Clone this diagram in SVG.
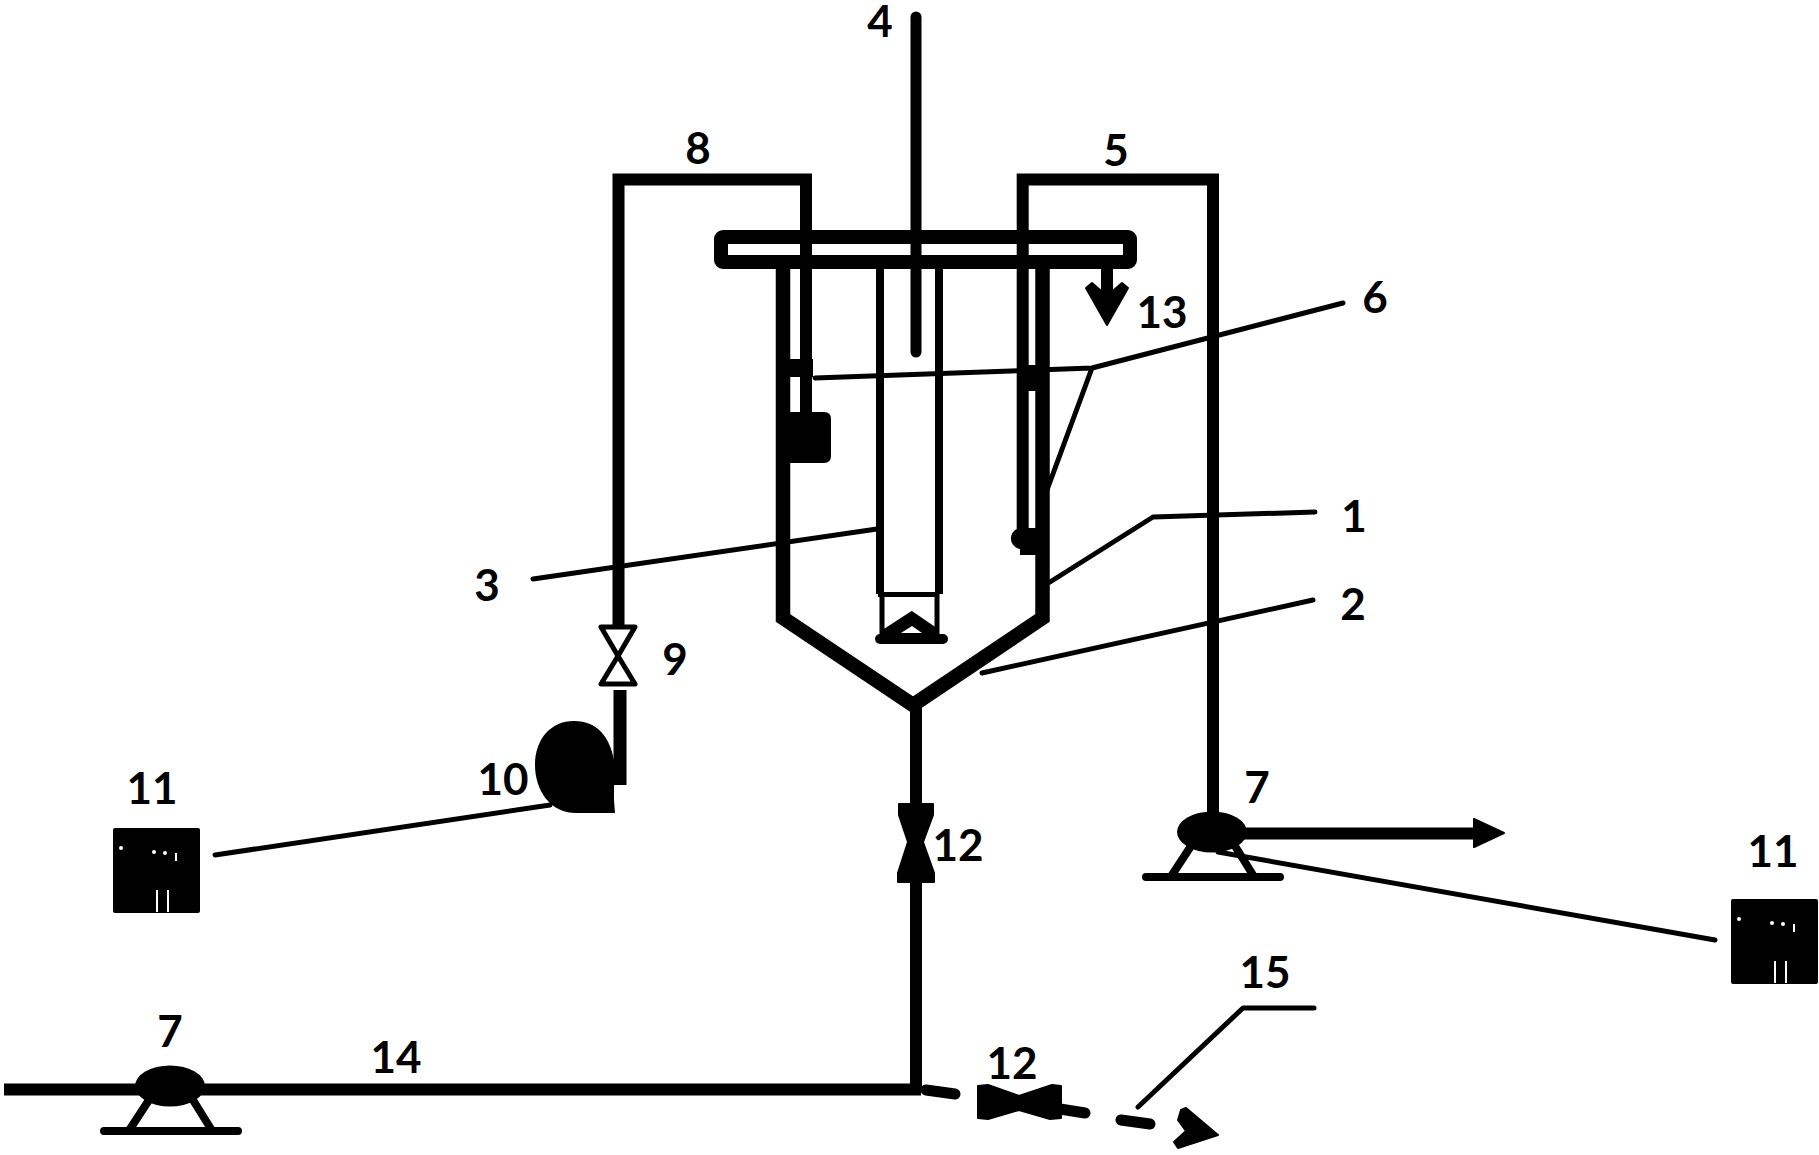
<svg xmlns="http://www.w3.org/2000/svg" width="1819" height="1155" viewBox="0 0 1819 1155">
<style>
.p{fill:none;stroke:#000;stroke-width:12;stroke-linejoin:miter}
.w{fill:none;stroke:#000;stroke-width:14.5;stroke-linejoin:miter}
.l{fill:none;stroke:#000;stroke-width:5;stroke-linecap:round;stroke-linejoin:round}
.d{fill:none;stroke:#000;stroke-width:11;stroke-linecap:round}
.k{fill:#000;stroke:#000;stroke-width:2;stroke-linejoin:round}
.v{fill:#fff;stroke:#000;stroke-width:5;stroke-linejoin:round}
.s{fill:none;stroke:#000;stroke-width:8;stroke-linecap:round}
.h{fill:#fff}
text{font-family:Lato,"DejaVu Sans",sans-serif;font-weight:700;font-size:44px;fill:#000;text-anchor:middle}
</style>
<defs>
<g id="pump7"><ellipse cx="0" cy="0" rx="35" ry="20.5" fill="#000"/><path class="s" d="M-21 14L-40 43M23 14L41 43M-66 45H68"/></g>
<g id="box11"><rect x="0" y="0" width="87" height="85" rx="2" fill="#000"/><circle class="h" cx="8" cy="20" r="2"/><circle class="h" cx="41" cy="24" r="2"/><circle class="h" cx="52" cy="25" r="2"/><rect class="h" x="62" y="25" width="2" height="8"/><rect class="h" x="43" y="62" width="2" height="22"/><rect class="h" x="54" y="62" width="2" height="22"/></g>
</defs>
<g id="connectors">
<path id="pipe-8" class="p" d="M618.5 632V179.5H806V412"/>
<path id="pipe-5" class="p" d="M1213 825V179.5H1022.7V530"/>
<path id="pipe-4" d="M916 17V352" fill="none" stroke="#000" stroke-width="11" stroke-linecap="round"/>
<path id="pipe-9-10" d="M620 690V785" fill="none" stroke="#000" stroke-width="13"/>
<path id="pipe-drain" class="p" d="M916 705V1089.5M4 1089.5H921"/>
<path id="pipe-out-dash" class="d" d="M926 1090L955 1094M1060 1109L1085 1113M1121 1120L1150 1124"/>
<path id="arrow-out" class="p" d="M1240 833.5H1480"/>
<polygon class="k" points="1474,819 1504,833 1474,847"/>
<path id="arrow-15" class="k" d="M1181 1110L1186 1108L1218 1135L1178 1148L1174 1142L1186 1131L1178 1120Z"/>
<path id="arrow-13-stem" class="p" d="M1107 269V300"/>
<polygon class="k" points="1086,288 1092,283 1107,296 1122,283 1128,288 1107,325"/>
<path class="l" d="M533 579L877 529"/>
<path class="l" d="M1050 582L1153 517L1315 512"/>
<path class="l" d="M982 673L1313 600"/>
<path class="l" d="M815 378L1092 368L1343 303M1092 368L1047 490"/>
<path class="l" d="M215 855L550 805"/>
<path class="l" d="M1218 852L1715 940"/>
<path class="l" d="M1138 1107L1243 1008H1314"/>
</g>
<g id="reactor-1">
<path class="w" d="M783 269V618L913 705L1042.5 618V269"/>
</g>
<g id="head-bar"><rect x="721" y="237" width="409" height="25" rx="2" fill="none" stroke="#000" stroke-width="14"/></g>
<g id="tube-3">
<path d="M880 269V594M939 269V594" fill="none" stroke="#000" stroke-width="8"/>
<path d="M878 594.5H938M882 594V635M937 594V635" fill="none" stroke="#000" stroke-width="5"/>
<path d="M880 639H943" fill="none" stroke="#000" stroke-width="10" stroke-linecap="round"/>
<path class="k" d="M884 630L911.7 612L938 630V636H884Z"/>
<polygon class="h" points="912,626 901,633 922,633"/>
</g>
<g id="probes-6">
<rect x="789" y="359" width="24" height="18" fill="#000"/>
<path d="M789 412H824Q831 412 831 419V456Q831 463 824 463H789Z" fill="#000"/>
<rect x="1027" y="365" width="9" height="26" fill="#000"/>
<path d="M1023 528H1036V555H1020V549A10 10 0 0 1 1023 528Z" fill="#000"/>
</g>
<g id="valve-9"><polygon class="v" points="601,627 635,627 618,656 635,684 601,684 618,656"/></g>
<g id="pump-10"><path d="M574 721C598 721 610 738 614 760V800L615 813H576C550 813 535 790 535 765C535 740 550 721 574 721Z" fill="#000"/></g>
<g id="valve-12a"><path class="k" d="M899 804H933L933 815L923 842L934 873V882H898V873L908 842L899 815Z"/></g>
<g id="valve-12b"><path class="k" d="M978 1086L988 1085L1019 1096L1052 1085L1061 1086V1118L1050 1119L1019 1110L988 1119L978 1118Z"/></g>
<g id="pump-7a"><use href="#pump7" x="1212" y="832"/></g>
<g id="pump-7b"><use href="#pump7" x="170" y="1086"/></g>
<g id="box-11a"><use href="#box11" x="113" y="828"/></g>
<g id="box-11b"><use href="#box11" x="1731" y="899"/></g>
<g id="labels">
<text x="880" y="37">4</text>
<text x="698" y="164">8</text>
<text x="1116" y="166">5</text>
<text x="1162" y="328">13</text>
<text x="1375" y="313">6</text>
<text x="1354" y="532">1</text>
<text x="1353" y="620">2</text>
<text x="487" y="601">3</text>
<text x="675" y="675">9</text>
<text x="503" y="795">10</text>
<text x="152" y="804">11</text>
<text x="958" y="861">12</text>
<text x="1257" y="803">7</text>
<text x="1773" y="867">11</text>
<text x="1265" y="988">15</text>
<text x="1012" y="1079">12</text>
<text x="396" y="1073">14</text>
<text x="170" y="1047">7</text>
</g>
</svg>
